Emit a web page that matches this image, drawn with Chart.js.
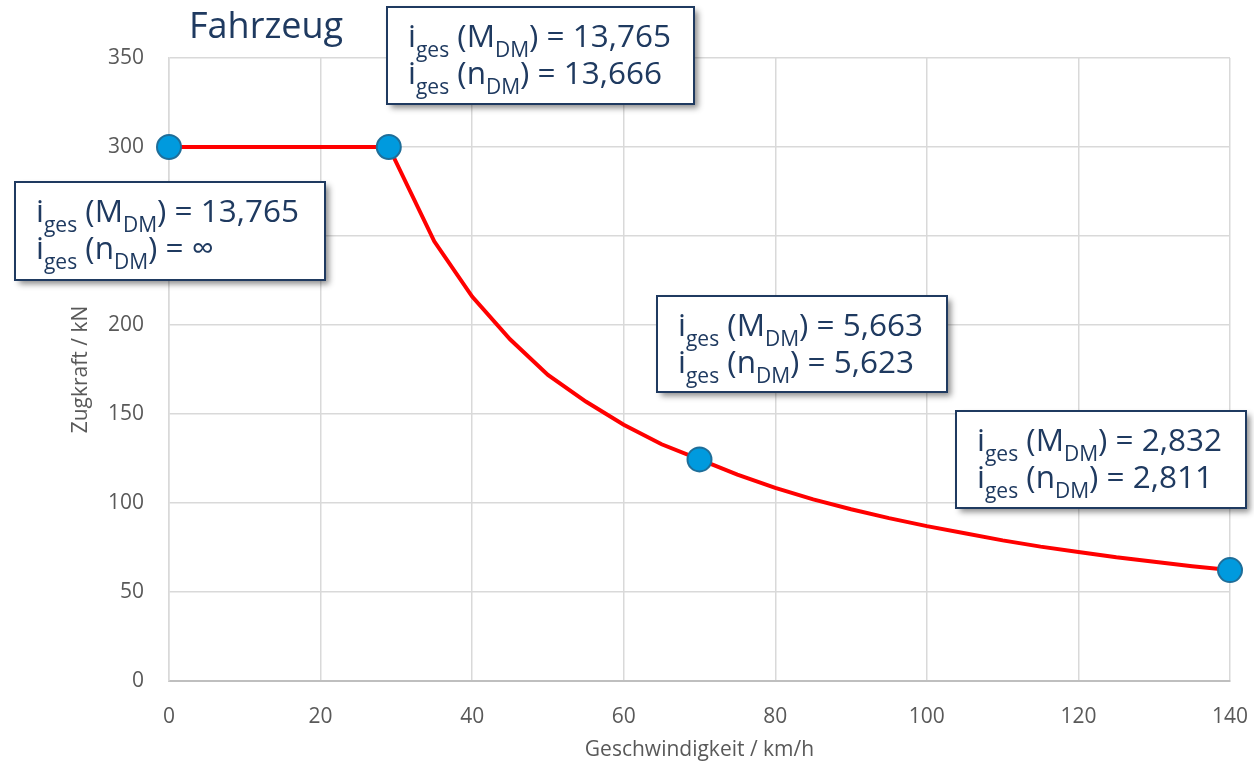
<!DOCTYPE html>
<html>
<head>
<meta charset="utf-8">
<script src="https://cdn.jsdelivr.net/npm/chart.js@4"></script>
<style>
  html, body { margin: 0; padding: 0; background: #fff; }
  #wrap { width: 1254px; height: 767px; }
</style>
</head>
<body>
<div id="wrap"><canvas id="tractionChart" width="1254" height="767"></canvas></div>
<script>
// Zugkraftkennlinie
const speeds = [0, 29, 35, 40, 45, 50, 55, 60, 65, 70, 75, 80, 85, 90, 95, 100, 105, 110, 115, 120, 125, 130, 135, 140]
const tractiveForce = [300, 300, 247, 216, 192, 172, 157, 144, 133, 124.5, 116, 108.5, 102, 96.5, 91.5, 87, 83, 79, 75.5, 72.5, 69.5, 67, 64.5, 62.3]

// marked operating points
const markerSpeeds = [0, 29, 70, 140]
const markerForces = [300, 300, 124.5, 62.3]

// gear ratio labels: [M_DM, n_DM]
const ratioLabels = [
  ['13,765', '\u221E'],
  ['13,765', '13,666'],
  ['5,663', '5,623'],
  ['2,832', '2,811']
]

const xTicks = [0, 20, 40, 60, 80, 100, 120, 140]
const yTicks = [0, 50, 100, 150, 200, 250, 300, 350]

const navy = '#1F3A60'
const grey = '#595959'
const font = '"Open Sans", sans-serif'

// box placement on the canvas (layout only)
const boxes = [
  { x: 15, y: 182, w: 310, h: 98 },
  { x: 387, y: 7, w: 307, h: 97 },
  { x: 657, y: 296, w: 290, h: 96 },
  { x: 956, y: 411, w: 290, h: 97 }
]

function drawRich(ctx, x, y, parts) {
  for (const [text, sub] of parts) {
    if (sub) {
      ctx.font = '21px ' + font
      ctx.fillText(text, x, y + 10)
    } else {
      ctx.font = '31.5px ' + font
      ctx.fillText(text, x, y)
    }
    x += ctx.measureText(text).width
  }
}

const annotationPlugin = {
  id: 'ratioBoxes',
  afterDraw(chart) {
    const ctx = chart.ctx
    ctx.save()
    // title
    ctx.fillStyle = navy
    ctx.font = '36px ' + font
    ctx.textBaseline = 'alphabetic'
    ctx.fillText('Fahrzeug', 189, 38)

    boxes.forEach((b, i) => {
      ctx.save()
      ctx.shadowColor = 'rgba(0,0,0,0.45)'
      ctx.shadowBlur = 6
      ctx.shadowOffsetX = 4
      ctx.shadowOffsetY = 4
      ctx.fillStyle = '#fff'
      ctx.fillRect(b.x, b.y, b.w, b.h)
      ctx.restore()
      ctx.strokeStyle = navy
      ctx.lineWidth = 2
      ctx.strokeRect(b.x, b.y, b.w, b.h)

      ctx.fillStyle = navy
      const [m, n] = ratioLabels[i]
      const tx = b.x + 21
      drawRich(ctx, tx, b.y + 40, [['i', false], ['ges', true], [' (M', false], ['DM', true], [') = ' + m, false]])
      drawRich(ctx, tx, b.y + 77, [['i', false], ['ges', true], [' (n', false], ['DM', true], [') = ' + n, false]])
    })
    ctx.restore()
  }
}

new Chart(document.getElementById('tractionChart').getContext('2d'), {
  type: 'scatter',
  data: {
    datasets: [
      {
        data: speeds.map((v, i) => ({ x: v, y: tractiveForce[i] })),
        showLine: true,
        borderColor: '#FF0000',
        borderWidth: 4,
        pointRadius: 0,
        tension: 0,
        order: 2
      },
      {
        data: markerSpeeds.map((v, i) => ({ x: v, y: markerForces[i] })),
        showLine: false,
        clip: false,
        pointRadius: 12,
        pointBackgroundColor: '#009ADE',
        pointBorderColor: '#1F6E99',
        pointBorderWidth: 2,
        order: 1
      }
    ]
  },
  options: {
    responsive: false,
    animation: false,
    layout: { padding: { left: 68, top: 58, right: 24, bottom: 0 } },
    plugins: {
      legend: { display: false },
      tooltip: { enabled: false }
    },
    scales: {
      x: {
        type: 'linear',
        min: 0,
        max: 140,
        afterBuildTicks: axis => { axis.ticks = xTicks.map(v => ({ value: v })) },
        afterFit: axis => {
          axis.height = 86
          axis.paddingLeft = 0
          axis.paddingRight = 0
        },
        grid: { color: '#D9D9D9', lineWidth: 1.5, drawTicks: false },
        border: { color: '#BFBFBF', width: 2 },
        ticks: { color: grey, font: { family: font, size: 21 }, padding: 23 },
        title: {
          display: true,
          text: 'Geschwindigkeit / km/h',
          color: grey,
          font: { family: font, size: 21 },
          padding: { top: 9 }
        }
      },
      y: {
        min: 0,
        max: 350,
        afterBuildTicks: axis => { axis.ticks = yTicks.map(v => ({ value: v })) },
        afterFit: axis => {
          axis.width = 101
          axis.paddingTop = 0
          axis.paddingBottom = 0
        },
        grid: { color: '#D9D9D9', lineWidth: 1.5, drawTicks: false },
        border: { color: '#D9D9D9', width: 1.5 },
        ticks: { color: grey, font: { family: font, size: 21 }, padding: 25 },
        title: {
          display: true,
          text: 'Zugkraft / kN',
          color: grey,
          font: { family: font, size: 21 },
          padding: { top: 0, bottom: 0 }
        }
      }
    }
  },
  plugins: [annotationPlugin]
})
</script>
</body>
</html>
